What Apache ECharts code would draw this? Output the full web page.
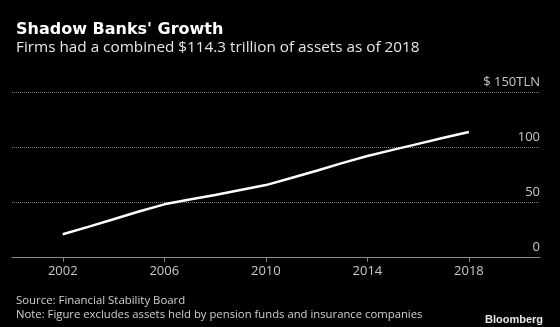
<!DOCTYPE html>
<html><head><meta charset="utf-8">
<script src="https://cdn.jsdelivr.net/npm/echarts@6/dist/echarts.min.js"></script>
<style>html,body{margin:0;padding:0;background:#000;}#c{width:560px;height:327px;}</style>
</head><body><div id="c"></div>
<script>
var years = [2002,2003,2004,2005,2006,2007,2008,2009,2010,2011,2012,2013,2014,2015,2016,2017,2018];
var assets = [21.3,28,35,42,48.5,53,57,61.5,66,72.5,79,86,92.5,98,103.5,109,114.3];
var xTicks = [2002,2006,2010,2014,2018];
var yTicks = [0,50,100,150];

var chart = echarts.init(document.getElementById('c'));
var font = 'Open Sans';
chart.setOption({
  backgroundColor:'#000',
  animation:false,
  title:[
    {text:"Shadow Banks' Growth", left:11, top:17, textStyle:{color:'#fff',fontSize:16,fontWeight:'bold',fontFamily:'DejaVu Sans'}},
    {text:'Firms had a combined $114.3 trillion of assets as of 2018', left:11, top:35, textStyle:{color:'#e6e6e6',fontSize:15.3,fontWeight:'normal',fontFamily:font}},
    {text:'Source: Financial Stability Board', left:11, top:290, textStyle:{color:'#cfcfcf',fontSize:11.4,fontWeight:'normal',fontFamily:font}},
    {text:'Note: Figure excludes assets held by pension funds and insurance companies', left:11, top:304, textStyle:{color:'#cfcfcf',fontSize:11.3,fontWeight:'normal',fontFamily:font}},
    {text:'Bloomberg', right:12, top:309, textStyle:{color:'#e6e6e6',fontSize:11,fontWeight:'bold',fontFamily:'Liberation Sans'}}
  ],
  grid:{left:12, right:20, top:92.7, bottom:69.3},
  xAxis:{type:'value', min:2000, max:2020.8,
    axisLine:{show:true,lineStyle:{color:'#8a8a8a',width:1}},
    axisTick:{show:true,customValues:xTicks,length:4,lineStyle:{color:'#8a8a8a'}},
    axisLabel:{customValues:xTicks,color:'#c8c8c8',fontSize:13,fontFamily:font,margin:7,
      formatter:function(v){return String(v);}},
    splitLine:{show:false}},
  yAxis:{type:'value', position:'right', min:0, max:150, interval:50,
    axisLine:{show:false}, axisTick:{show:false},
    axisLabel:{inside:true, color:'#c8c8c8', fontSize:13, fontFamily:font, verticalAlign:'bottom', margin:0, padding:[0,0,4,0],
      formatter:function(v){return v===150?'$ 150TLN':String(v);}},
    splitLine:{show:true,lineStyle:{color:'#777',type:'dotted',width:1}}},
  series:[{type:'line', data:years.map(function(y,i){return [y,assets[i]];}), showSymbol:false,
    lineStyle:{color:'#fff',width:2.5}, z:3}]
});
</script></body></html>
